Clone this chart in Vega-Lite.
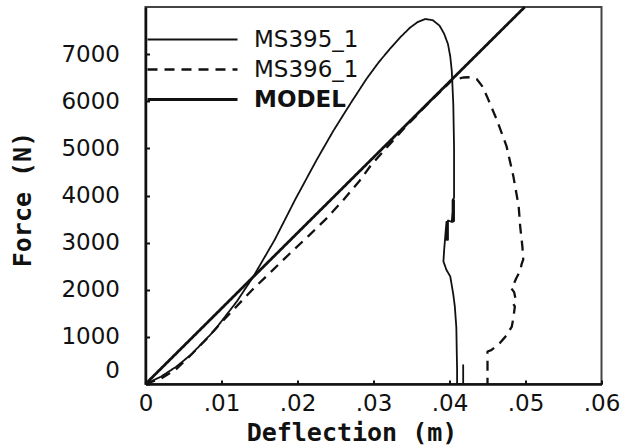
{
  "$schema": "https://vega.github.io/schema/vega-lite/v6.json",
  "width": 456,
  "height": 377,
  "autosize": "none",
  "padding": {"left": 145.5, "top": 7, "right": 29.5, "bottom": 61},
  "background": "white",
  "config": {"view": {"stroke": "#444", "strokeWidth": 2}, "font": "DejaVu Sans"},
  "data": {"values": [
    {"s": "MS395_1", "i": 0, "d": 0, "f": 0},
    {"s": "MS395_1", "i": 1, "d": 0.002, "f": 153},
    {"s": "MS395_1", "i": 2, "d": 0.004, "f": 362},
    {"s": "MS395_1", "i": 3, "d": 0.006, "f": 625},
    {"s": "MS395_1", "i": 4, "d": 0.009, "f": 1124},
    {"s": "MS395_1", "i": 5, "d": 0.012, "f": 1748},
    {"s": "MS395_1", "i": 6, "d": 0.0142, "f": 2283},
    {"s": "MS395_1", "i": 7, "d": 0.017, "f": 3060},
    {"s": "MS395_1", "i": 8, "d": 0.0197, "f": 3915},
    {"s": "MS395_1", "i": 9, "d": 0.0225, "f": 4750},
    {"s": "MS395_1", "i": 10, "d": 0.0247, "f": 5368},
    {"s": "MS395_1", "i": 11, "d": 0.027, "f": 5960},
    {"s": "MS395_1", "i": 12, "d": 0.0291, "f": 6480},
    {"s": "MS395_1", "i": 13, "d": 0.0307, "f": 6830},
    {"s": "MS395_1", "i": 14, "d": 0.0322, "f": 7120},
    {"s": "MS395_1", "i": 15, "d": 0.0336, "f": 7370},
    {"s": "MS395_1", "i": 16, "d": 0.0348, "f": 7560},
    {"s": "MS395_1", "i": 17, "d": 0.0358, "f": 7680},
    {"s": "MS395_1", "i": 18, "d": 0.0368, "f": 7745},
    {"s": "MS395_1", "i": 19, "d": 0.0378, "f": 7720},
    {"s": "MS395_1", "i": 20, "d": 0.0387, "f": 7602},
    {"s": "MS395_1", "i": 21, "d": 0.0393, "f": 7430},
    {"s": "MS395_1", "i": 22, "d": 0.0398, "f": 7213},
    {"s": "MS395_1", "i": 23, "d": 0.0401, "f": 6950},
    {"s": "MS395_1", "i": 24, "d": 0.0403, "f": 6645},
    {"s": "MS395_1", "i": 25, "d": 0.0405, "f": 5936},
    {"s": "MS395_1", "i": 26, "d": 0.0406, "f": 5000},
    {"s": "MS395_1", "i": 27, "d": 0.0406, "f": 3950},
    {"s": "MS395_1", "i": 28, "d": 0.0404, "f": 3900},
    {"s": "MS395_1", "i": 29, "d": 0.0404, "f": 3440},
    {"s": "MS395_1", "i": 30, "d": 0.0406, "f": 3460},
    {"s": "MS395_1", "i": 31, "d": 0.0406, "f": 3900},
    {"s": "MS395_1", "i": 32, "d": 0.0405, "f": 3880},
    {"s": "MS395_1", "i": 33, "d": 0.0403, "f": 3440},
    {"s": "MS395_1", "i": 34, "d": 0.0398, "f": 3470},
    {"s": "MS395_1", "i": 35, "d": 0.0396, "f": 3060},
    {"s": "MS395_1", "i": 36, "d": 0.0398, "f": 3060},
    {"s": "MS395_1", "i": 37, "d": 0.0398, "f": 3450},
    {"s": "MS395_1", "i": 38, "d": 0.0396, "f": 3440},
    {"s": "MS395_1", "i": 39, "d": 0.0394, "f": 3050},
    {"s": "MS395_1", "i": 40, "d": 0.0393, "f": 2850},
    {"s": "MS395_1", "i": 41, "d": 0.0392, "f": 2602},
    {"s": "MS395_1", "i": 42, "d": 0.0396, "f": 2420},
    {"s": "MS395_1", "i": 43, "d": 0.0401, "f": 2283},
    {"s": "MS395_1", "i": 44, "d": 0.0405, "f": 1900},
    {"s": "MS395_1", "i": 45, "d": 0.0407, "f": 1645},
    {"s": "MS395_1", "i": 46, "d": 0.0409, "f": 1200},
    {"s": "MS395_1", "i": 47, "d": 0.04095, "f": 723},
    {"s": "MS395_1", "i": 48, "d": 0.041, "f": 300},
    {"s": "MS395_1", "i": 49, "d": 0.041, "f": 0},
    {"s": "MS395_1", "i": 50, "d": 0.0418, "f": 0},
    {"s": "MS395_1", "i": 51, "d": 0.0418, "f": 400},
    {"s": "MS395_1", "i": 52, "d": 0.0418, "f": 0},
    {"s": "MS396_1", "i": 0, "d": 0, "f": 0},
    {"s": "MS396_1", "i": 1, "d": 0.002, "f": 110},
    {"s": "MS396_1", "i": 2, "d": 0.004, "f": 310},
    {"s": "MS396_1", "i": 3, "d": 0.006, "f": 620},
    {"s": "MS396_1", "i": 4, "d": 0.008, "f": 950},
    {"s": "MS396_1", "i": 5, "d": 0.01, "f": 1310},
    {"s": "MS396_1", "i": 6, "d": 0.012, "f": 1650},
    {"s": "MS396_1", "i": 7, "d": 0.014, "f": 1990},
    {"s": "MS396_1", "i": 8, "d": 0.0165, "f": 2380},
    {"s": "MS396_1", "i": 9, "d": 0.019, "f": 2770},
    {"s": "MS396_1", "i": 10, "d": 0.0215, "f": 3150},
    {"s": "MS396_1", "i": 11, "d": 0.0238, "f": 3510},
    {"s": "MS396_1", "i": 12, "d": 0.026, "f": 3900},
    {"s": "MS396_1", "i": 13, "d": 0.0282, "f": 4320},
    {"s": "MS396_1", "i": 14, "d": 0.0297, "f": 4650},
    {"s": "MS396_1", "i": 15, "d": 0.0322, "f": 5100},
    {"s": "MS396_1", "i": 16, "d": 0.034, "f": 5420},
    {"s": "MS396_1", "i": 17, "d": 0.037, "f": 5920},
    {"s": "MS396_1", "i": 18, "d": 0.0403, "f": 6440},
    {"s": "MS396_1", "i": 19, "d": 0.0418, "f": 6504},
    {"s": "MS396_1", "i": 20, "d": 0.0428, "f": 6510},
    {"s": "MS396_1", "i": 21, "d": 0.0436, "f": 6468},
    {"s": "MS396_1", "i": 22, "d": 0.0443, "f": 6320},
    {"s": "MS396_1", "i": 23, "d": 0.0449, "f": 6113},
    {"s": "MS396_1", "i": 24, "d": 0.0462, "f": 5617},
    {"s": "MS396_1", "i": 25, "d": 0.0475, "f": 5049},
    {"s": "MS396_1", "i": 26, "d": 0.0484, "f": 4411},
    {"s": "MS396_1", "i": 27, "d": 0.0491, "f": 3772},
    {"s": "MS396_1", "i": 28, "d": 0.0493, "f": 3347},
    {"s": "MS396_1", "i": 29, "d": 0.0496, "f": 2900},
    {"s": "MS396_1", "i": 30, "d": 0.0497, "f": 2638},
    {"s": "MS396_1", "i": 31, "d": 0.0495, "f": 2550},
    {"s": "MS396_1", "i": 32, "d": 0.0493, "f": 2400},
    {"s": "MS396_1", "i": 33, "d": 0.0488, "f": 2250},
    {"s": "MS396_1", "i": 34, "d": 0.0484, "f": 2100},
    {"s": "MS396_1", "i": 35, "d": 0.0481, "f": 2036},
    {"s": "MS396_1", "i": 36, "d": 0.0485, "f": 1950},
    {"s": "MS396_1", "i": 37, "d": 0.0487, "f": 1800},
    {"s": "MS396_1", "i": 38, "d": 0.0484, "f": 1700},
    {"s": "MS396_1", "i": 39, "d": 0.0486, "f": 1645},
    {"s": "MS396_1", "i": 40, "d": 0.0484, "f": 1400},
    {"s": "MS396_1", "i": 41, "d": 0.0482, "f": 1219},
    {"s": "MS396_1", "i": 42, "d": 0.0475, "f": 1030},
    {"s": "MS396_1", "i": 43, "d": 0.0466, "f": 866},
    {"s": "MS396_1", "i": 44, "d": 0.0455, "f": 720},
    {"s": "MS396_1", "i": 45, "d": 0.045, "f": 690},
    {"s": "MS396_1", "i": 46, "d": 0.045, "f": 440},
    {"s": "MS396_1", "i": 47, "d": 0.045, "f": 0},
    {"s": "MODEL", "i": 0, "d": 0, "f": 0},
    {"s": "MODEL", "i": 1, "d": 0.025, "f": 4008},
    {"s": "MODEL", "i": 2, "d": 0.0499, "f": 8000}
  ]},
  "mark": {"type": "line", "color": "#111", "strokeJoin": "round", "strokeCap": "butt"},
  "encoding": {
    "x": {
      "field": "d", "type": "quantitative",
      "scale": {"domain": [0, 0.06], "nice": false},
      "axis": {
        "title": "Deflection  (m)",
        "values": [0, 0.01, 0.02, 0.03, 0.04, 0.05, 0.06],
        "labelExpr": "datum.value === 0 ? '0' : replace(format(datum.value, '.2f'), '0.', '.')",
        "grid": false,
        "domainColor": "#111", "domainWidth": 2.5,
        "tickSize": -4, "tickColor": "#111", "tickWidth": 2,
        "labelFlush": false, "labelOverlap": false, "labelBound": false,
        "labelFont": "DejaVu Sans", "labelFontSize": 23, "labelColor": "#111",
        "labelPadding": 12,
        "titleFont": "DejaVu Sans Mono", "titleFontWeight": "bold", "titleFontSize": 25, "titleColor": "#111",
        "titleX": 206, "titleY": 36, "titleAlign": "center", "titleBaseline": "top"
      }
    },
    "y": {
      "field": "f", "type": "quantitative",
      "scale": {"domain": [0, 8000], "nice": false},
      "axis": {
        "title": "Force (N)",
        "values": [0, 1000, 2000, 3000, 4000, 5000, 6000, 7000],
        "format": "d",
        "grid": false,
        "domainColor": "#111", "domainWidth": 2.5,
        "tickSize": -4, "tickColor": "#111", "tickWidth": 2,
        "labelFlush": false, "labelOverlap": false, "labelBound": false,
        "labelFont": "DejaVu Sans", "labelFontSize": 23, "labelColor": "#111",
        "labelPadding": 30,
        "labelOffset": {"condition": {"test": "datum.value === 0", "value": -14}, "value": 0},
        "titleFont": "DejaVu Sans Mono", "titleFontWeight": "bold", "titleFontSize": 25, "titleColor": "#111",
        "titleX": -123, "titleY": 192, "titleAngle": -90, "titleAlign": "center", "titleBaseline": "middle"
      }
    },
    "order": {"field": "i", "type": "quantitative"},
    "strokeDash": {
      "field": "s", "type": "nominal",
      "scale": {"domain": ["MS395_1", "MS396_1", "MODEL"], "range": [[1, 0], [10, 7], [1, 0]]},
      "legend": {
        "title": null,
        "orient": "none",
        "legendX": 35.5,
        "legendY": 21,
        "padding": 0,
        "symbolType": "M-9,0H9",
        "symbolSize": 100,
        "symbolOffset": 0,
        "symbolStrokeColor": "#111",
        "symbolFillColor": "transparent",
        "labelOffset": 50,
        "labelFont": "DejaVu Sans",
        "labelFontSize": 23,
        "labelColor": "#111",
        "rowPadding": 6,
        "encode": {
          "labels": {"update": {"fontWeight": {"signal": "datum.label === 'MODEL' ? 'bold' : 'normal'"}}},
          "symbols": {"update": {"strokeWidth": {"signal": "datum.label === 'MODEL' ? 3.5 : (datum.label === 'MS396_1' ? 2.8 : 2)"}}}
        }
      }
    },
    "strokeWidth": {
      "field": "s", "type": "nominal",
      "scale": {"domain": ["MS395_1", "MS396_1", "MODEL"], "range": [1.8, 2.8, 2.2]},
      "legend": null
    }
  }
}
